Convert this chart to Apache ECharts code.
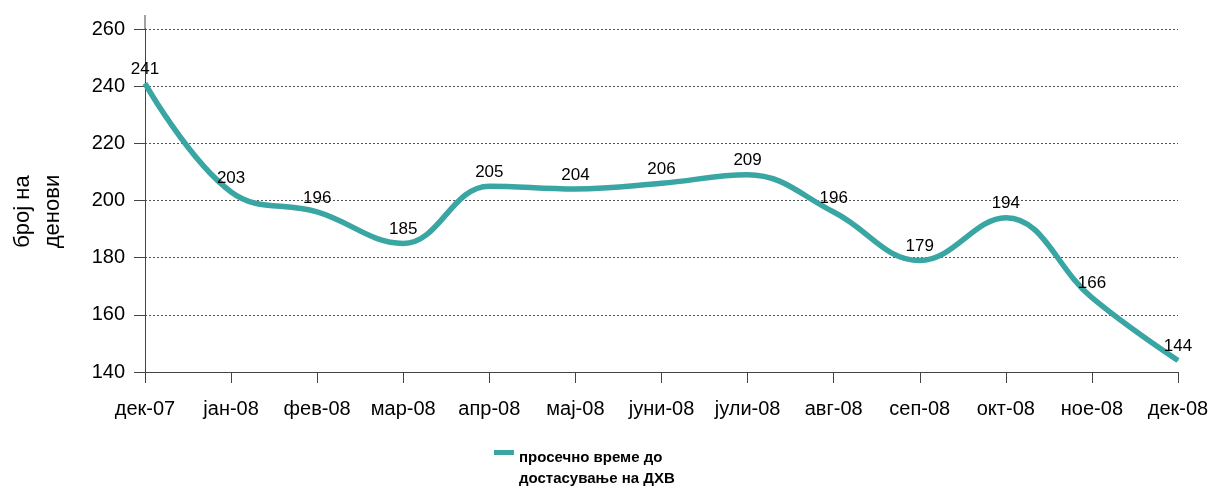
<!DOCTYPE html>
<html>
<head>
<meta charset="utf-8">
<script src="https://cdn.jsdelivr.net/npm/echarts@6/dist/echarts.min.js"></script>
<style>
  html, body { margin: 0; padding: 0; background: #fff; }
  #chart { width: 1213px; height: 486px; }
</style>
</head>
<body>
<div id="chart"></div>
<script>
let months = ['дек-07', 'јан-08', 'фев-08', 'мар-08', 'апр-08', 'мај-08', 'јуни-08', 'јули-08', 'авг-08', 'сеп-08', 'окт-08', 'ное-08', 'дек-08']
let avgDays = [241, 203, 196, 185, 205, 204, 206, 209, 196, 179, 194, 166, 144]
let seriesName = 'просечно време до\nдостасување на ДХВ'

let chart = echarts.init(document.getElementById('chart'))

let font = '"Liberation Sans", Arial, sans-serif'
let teal = '#3aa6a3'

chart.setOption({
    animation: false,
    textStyle: { fontFamily: font },
    grid: { left: 145, right: 35, top: 29, bottom: 114, containLabel: false, outerBoundsMode: 'none' },
    legend: {
        data: [seriesName],
        top: 447,
        left: 494,
        padding: 0,
        // rect sits at the top of the icon box so it lines up with the first text line
        icon: 'path://M0,0H20V5H0Z M0,36H0.1V36.1H0Z',
        itemWidth: 20,
        itemHeight: 36,
        textStyle: { fontWeight: 'bold', fontSize: 15, color: '#000', lineHeight: 21, fontFamily: font }
    },
    xAxis: {
        type: 'category',
        data: months,
        boundaryGap: false,
        axisLine: { lineStyle: { color: '#444', width: 1 } },
        axisTick: { show: true, length: 11, interval: 0, lineStyle: { color: '#444' } },
        axisLabel: { color: '#000', fontSize: 20, margin: 27, interval: 0, hideOverlap: false, fontFamily: font }
    },
    yAxis: {
        type: 'value',
        min: 140,
        max: 260,
        interval: 20,
        name: 'број на\nденови',
        nameLocation: 'middle',
        nameRotate: 90,
        nameGap: 77,
        nameTextStyle: { fontSize: 22, color: '#000', lineHeight: 30, fontFamily: font, padding: [0, 22, 0, 0] },
        axisLine: { show: true, lineStyle: { color: '#444', width: 1 } },
        axisTick: { show: true, length: 11, lineStyle: { color: '#444' } },
        axisLabel: { color: '#000', fontSize: 20, margin: 20, fontFamily: font },
        splitLine: { lineStyle: { color: '#555', type: [2, 2], width: 1 } }
    },
    graphic: [{
        type: 'line',
        shape: { x1: 145, y1: 15, x2: 145, y2: 29 },
        style: { stroke: '#444', lineWidth: 1 }
    }],
    series: [{
        name: seriesName,
        type: 'line',
        data: avgDays,
        smooth: 0.4,
        symbol: 'circle',
        symbolSize: 1,
        lineStyle: { color: teal, width: 5.5 },
        itemStyle: { color: teal },
        label: {
            show: true,
            position: 'top',
            distance: 5,
            color: '#000',
            fontSize: 17,
            fontFamily: font
        }
    }]
})
</script>
</body>
</html>
